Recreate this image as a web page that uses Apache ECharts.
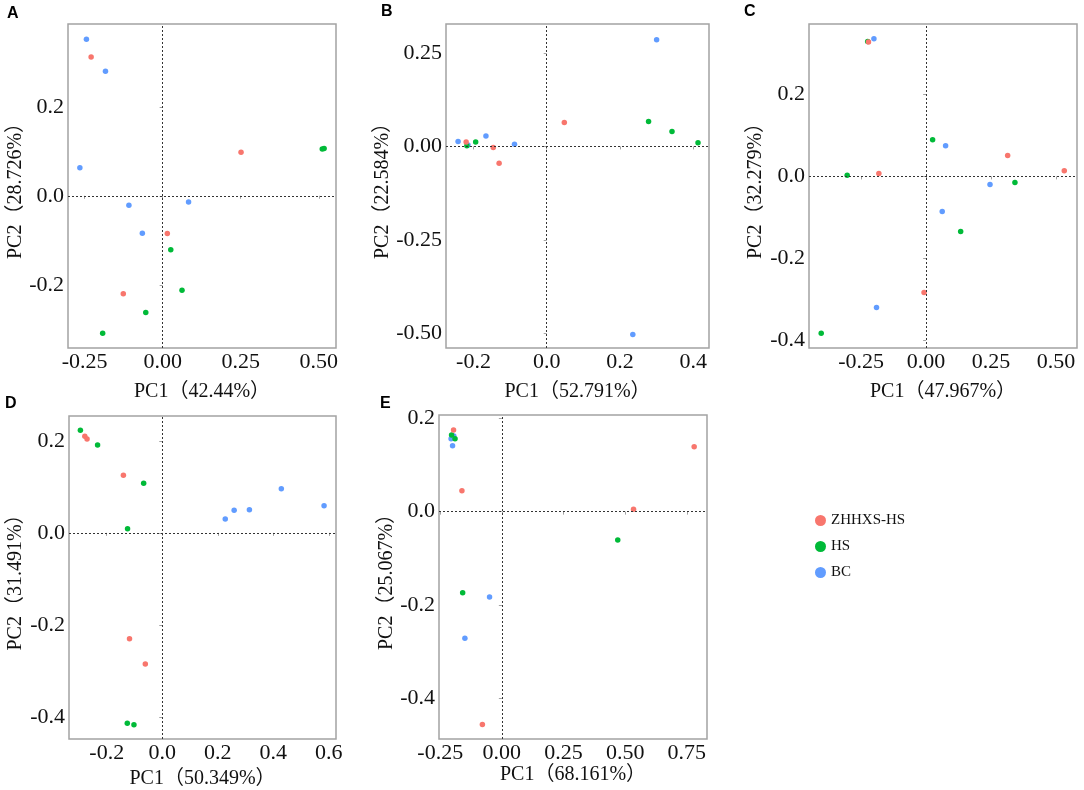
<!DOCTYPE html>
<html>
<head>
<meta charset="utf-8">
<script src="https://cdn.jsdelivr.net/npm/echarts@6/dist/echarts.min.js"></script>
<style>
  html, body { margin: 0; padding: 0; background: #fff; }
  #main { width: 1084px; height: 790px; }
</style>
</head>
<body>
<div id="main"></div>
<script>
// group names
var groups = ['ZHHXS-HS', 'HS', 'BC'];

// panel A
var aRed = [[-0.229, 0.312], [0.251, 0.098], [0.015, -0.085], [-0.126, -0.220]];
var aGreen = [[0.511, 0.105], [0.517, 0.106], [0.026, -0.121], [0.062, -0.212], [-0.054, -0.262], [-0.192, -0.309]];
var aBlue = [[-0.244, 0.352], [-0.183, 0.280], [-0.265, 0.063], [-0.108, -0.021], [0.083, -0.014], [-0.065, -0.084]];
// panel B
var bRed = [[0.048, 0.064], [-0.220, 0.012], [-0.146, -0.003], [-0.130, -0.045]];
var bGreen = [[0.278, 0.067], [0.342, 0.040], [0.413, 0.010], [-0.218, 0.002], [-0.194, 0.012]];
var bBlue = [[0.300, 0.286], [0.235, -0.504], [-0.242, 0.013], [-0.215, 0.004], [-0.166, 0.028], [-0.088, 0.006]];
// panel C
var cRed = [[-0.222, 0.329], [0.314, 0.051], [0.532, 0.014], [-0.182, 0.007], [-0.008, -0.284]];
var cGreen = [[-0.225, 0.330], [0.025, 0.090], [-0.304, 0.003], [0.342, -0.015], [0.133, -0.135], [-0.404, -0.384]];
var cBlue = [[-0.201, 0.337], [0.075, 0.075], [0.246, -0.020], [0.062, -0.086], [-0.191, -0.321]];
// panel D
var dRed = [[-0.279, 0.210], [-0.271, 0.204], [-0.140, 0.125], [-0.118, -0.230], [-0.061, -0.285]];
var dGreen = [[-0.295, 0.223], [-0.233, 0.191], [-0.067, 0.108], [-0.125, 0.009], [-0.126, -0.414], [-0.102, -0.417]];
var dBlue = [[0.227, 0.030], [0.259, 0.049], [0.314, 0.050], [0.429, 0.096], [0.583, 0.059]];
// panel E
var eRed = [[-0.196, 0.175], [-0.162, 0.045], [0.780, 0.139], [0.534, 0.005], [-0.079, -0.456]];
var eGreen = [[-0.204, 0.164], [-0.190, 0.156], [0.470, -0.061], [-0.159, -0.174]];
var eBlue = [[-0.195, 0.162], [-0.206, 0.156], [-0.200, 0.141], [-0.050, -0.183], [-0.150, -0.271]];

// axis titles
var xTitles = ['PC1（42.44%）', 'PC1（52.791%）', 'PC1（47.967%）', 'PC1（50.349%）', 'PC1（68.161%）'];
var yTitles = ['PC2（28.726%）', 'PC2（22.584%）', 'PC2（32.279%）', 'PC2（31.491%）', 'PC2（25.067%）'];

// tick values
var xTicksA = [-0.25, 0, 0.25, 0.5], yTicksA = [-0.2, 0, 0.2];
var xTicksB = [-0.2, 0, 0.2, 0.4], yTicksB = [-0.5, -0.25, 0, 0.25];
var xTicksC = [-0.25, 0, 0.25, 0.5], yTicksC = [-0.4, -0.2, 0, 0.2];
var xTicksD = [-0.2, 0, 0.2, 0.4, 0.6], yTicksD = [-0.4, -0.2, 0, 0.2];
var xTicksE = [-0.25, 0, 0.25, 0.5, 0.75], yTicksE = [-0.4, -0.2, 0, 0.2];

var colors = ['#F8766D', '#00BA38', '#619CFF'];
var layers = [4, 3, 2]; // red drawn over green over blue
var serif = '"Liberation Serif", "Times New Roman", "Noto Sans CJK SC", serif';

// layout per panel
var panels = [
    { tag: 'A', data: [aRed, aGreen, aBlue], xt: xTicksA, yt: yTicksA, xd: 2, yd: 1,
      grid: { left: 68, top: 24, width: 268, height: 324 }, x: [-0.303, 0.555], y: [-0.342, 0.386], xGap: 34, yGap: 42, tagPos: [7, 6] },
    { tag: 'B', data: [bRed, bGreen, bBlue], xt: xTicksB, yt: yTicksB, xd: 1, yd: 2,
      grid: { left: 446, top: 24, width: 263, height: 324 }, x: [-0.275, 0.443], y: [-0.540, 0.328], xGap: 34, yGap: 44, tagPos: [381, 4] },
    { tag: 'C', data: [cRed, cGreen, cBlue], xt: xTicksC, yt: yTicksC, xd: 2, yd: 1,
      grid: { left: 809, top: 24, width: 268, height: 324 }, x: [-0.451, 0.581], y: [-0.420, 0.373], xGap: 34, yGap: 43, tagPos: [744, 4] },
    { tag: 'D', data: [dRed, dGreen, dBlue], xt: xTicksD, yt: yTicksD, xd: 1, yd: 1,
      grid: { left: 69, top: 416, width: 267, height: 323 }, x: [-0.336, 0.626], y: [-0.448, 0.254], xGap: 30, yGap: 43, tagPos: [5, 396] },
    { tag: 'E', data: [eRed, eGreen, eBlue], xt: xTicksE, yt: yTicksE, xd: 2, yd: 1,
      grid: { left: 439, top: 415, width: 268, height: 324 }, x: [-0.255, 0.832], y: [-0.487, 0.207], xGap: 26, yGap: 38, tagPos: [380, 396] }
];

var grids = [], xAxes = [], yAxes = [], series = [], graphics = [];

panels.forEach(function (p, i) {
    grids.push(Object.assign({ show: true, borderColor: '#a3a3a3', borderWidth: 1.5, backgroundColor: '#fff' }, p.grid));
    xAxes.push({
        gridIndex: i, type: 'value', min: p.x[0], max: p.x[1],
        name: xTitles[i], nameLocation: 'middle', nameGap: p.xGap,
        nameTextStyle: { fontFamily: serif, fontSize: 20, color: '#111' },
        axisLine: { show: false },
        axisTick: { show: true, length: 3, customValues: p.xt, lineStyle: { color: '#a3a3a3' } },
        axisLabel: { customValues: p.xt, margin: 3, fontFamily: serif, fontSize: 22, color: '#111',
            formatter: function (v) { return Number(v).toFixed(p.xd); } },
        splitLine: { show: false }
    });
    yAxes.push({
        gridIndex: i, type: 'value', min: p.y[0], max: p.y[1],
        name: yTitles[i], nameLocation: 'middle', nameGap: p.yGap,
        nameTextStyle: { fontFamily: serif, fontSize: 20, color: '#111' },
        axisLine: { show: false },
        axisTick: { show: true, length: 3, customValues: p.yt, lineStyle: { color: '#a3a3a3' } },
        axisLabel: { customValues: p.yt, margin: 4, fontFamily: serif, fontSize: 22, color: '#111',
            formatter: function (v) { return Number(v).toFixed(p.yd); } },
        splitLine: { show: false }
    });
    p.data.forEach(function (d, g) {
        var s = {
            name: groups[g], type: 'scatter', xAxisIndex: i, yAxisIndex: i, z: layers[g],
            data: d, symbolSize: 5.5, itemStyle: { color: colors[g], opacity: 1 }
        };
        if (g === 2) {
            s.markLine = {
                silent: true, symbol: 'none', animation: false,
                label: { show: false },
                lineStyle: { color: '#333', type: [2, 2], width: 1 },
                data: [{ xAxis: 0 }, { yAxis: 0 }]
            };
        }
        series.push(s);
    });
    graphics.push({
        type: 'text', left: p.tagPos[0], top: p.tagPos[1],
        style: { text: p.tag, fontFamily: '"Liberation Sans", Arial, sans-serif', fontWeight: 'bold', fontSize: 16, fill: '#000' }
    });
});

var chart = echarts.init(document.getElementById('main'));
chart.setOption({
    animation: false,
    backgroundColor: '#fff',
    grid: grids,
    xAxis: xAxes,
    yAxis: yAxes,
    series: series,
    graphic: graphics,
    legend: {
        data: groups, orient: 'vertical', left: 810, top: 508,
        icon: 'circle', itemWidth: 11, itemHeight: 11, itemGap: 11,
        textStyle: { fontFamily: serif, fontSize: 15, color: '#111' }
    }
});
</script>
</body>
</html>
